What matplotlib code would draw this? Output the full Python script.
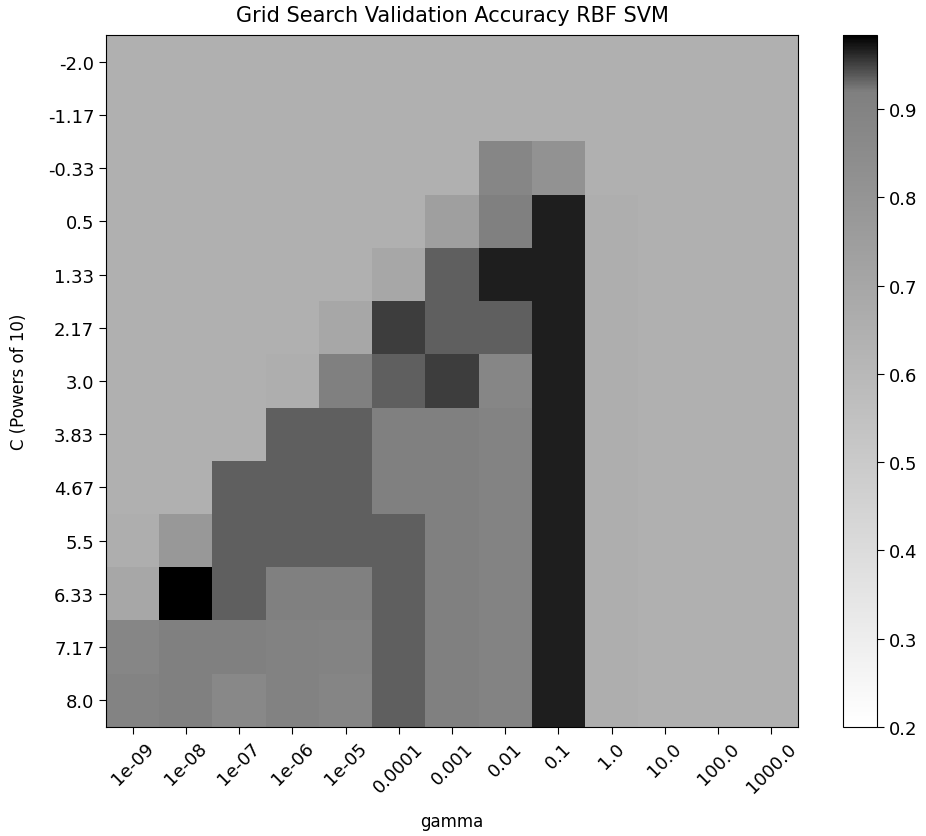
import matplotlib
matplotlib.use("Agg")
import matplotlib.pyplot as plt
import numpy as np
from matplotlib.colors import ListedColormap, Normalize

# grid search axes
gamma_labels = ['1e-09', '1e-08', '1e-07', '1e-06', '1e-05', '0.0001', '0.001',
                '0.01', '0.1', '1.0', '10.0', '100.0', '1000.0']
c_labels = ['-2.0', '-1.17', '-0.33', '0.5', '1.33', '2.17', '3.0', '3.83',
            '4.67', '5.5', '6.33', '7.17', '8.0']

# validation accuracy, rows = C, columns = gamma
scores = np.array([
    [0.646, 0.646, 0.646, 0.646, 0.646, 0.646, 0.646, 0.646, 0.646, 0.646, 0.646, 0.646, 0.646],
    [0.646, 0.646, 0.646, 0.646, 0.646, 0.646, 0.646, 0.646, 0.646, 0.646, 0.646, 0.646, 0.646],
    [0.646, 0.646, 0.646, 0.646, 0.646, 0.646, 0.646, 0.883, 0.816, 0.646, 0.646, 0.646, 0.646],
    [0.646, 0.646, 0.646, 0.646, 0.646, 0.646, 0.742, 0.917, 0.968, 0.657, 0.646, 0.646, 0.646],
    [0.646, 0.646, 0.646, 0.646, 0.646, 0.697, 0.935, 0.968, 0.968, 0.657, 0.646, 0.646, 0.646],
    [0.646, 0.646, 0.646, 0.646, 0.697, 0.953, 0.935, 0.935, 0.968, 0.657, 0.646, 0.646, 0.646],
    [0.646, 0.646, 0.646, 0.657, 0.917, 0.935, 0.953, 0.883, 0.968, 0.657, 0.646, 0.646, 0.646],
    [0.646, 0.646, 0.646, 0.935, 0.935, 0.917, 0.917, 0.895, 0.968, 0.657, 0.646, 0.646, 0.646],
    [0.646, 0.646, 0.935, 0.935, 0.935, 0.917, 0.917, 0.895, 0.968, 0.657, 0.646, 0.646, 0.646],
    [0.657, 0.782, 0.935, 0.935, 0.935, 0.935, 0.917, 0.895, 0.968, 0.657, 0.646, 0.646, 0.646],
    [0.697, 0.984, 0.935, 0.917, 0.917, 0.935, 0.917, 0.895, 0.968, 0.657, 0.646, 0.646, 0.646],
    [0.883, 0.917, 0.917, 0.906, 0.895, 0.935, 0.917, 0.895, 0.968, 0.657, 0.646, 0.646, 0.646],
    [0.895, 0.917, 0.872, 0.906, 0.888, 0.935, 0.917, 0.895, 0.968, 0.657, 0.646, 0.646, 0.646],
])

vmin, midpoint = 0.2, 0.92
vmax = scores.max()

# gray colormap squeezed around the midpoint, colorbar kept linear
levels = np.linspace(vmin, vmax, 512)
cmap = ListedColormap(plt.cm.gray_r(np.interp(levels, [vmin, midpoint, vmax], [0, 0.5, 1])))

fig = plt.figure(figsize=(9.26, 8.37), dpi=100)
ax = fig.add_axes([106 / 926, 1 - 728 / 837, 692 / 926, 692 / 837])
cax = fig.add_axes([843 / 926, 1 - 728 / 837, 34 / 926, 692 / 837])

im = ax.imshow(scores, interpolation='nearest', cmap=cmap,
               norm=Normalize(vmin=vmin, vmax=vmax), aspect='auto')
ax.set_xticks(np.arange(len(gamma_labels)))
ax.set_xticklabels(gamma_labels, rotation=45, fontsize=13)
ax.set_yticks(np.arange(len(c_labels)))
ax.set_yticklabels(c_labels, fontsize=13)
ax.tick_params(length=5)
ax.set_xlabel('gamma', fontsize=12, labelpad=12)
ax.set_ylabel('C (Powers of 10)', fontsize=12, labelpad=14)
ax.set_title('Grid Search Validation Accuracy RBF SVM', fontsize=15, pad=10)

cb = fig.colorbar(im, cax=cax)
cb.set_ticks([0.2, 0.3, 0.4, 0.5, 0.6, 0.7, 0.8, 0.9])
cb.ax.tick_params(labelsize=13, length=5)

fig.savefig('out.png', dpi=100)
